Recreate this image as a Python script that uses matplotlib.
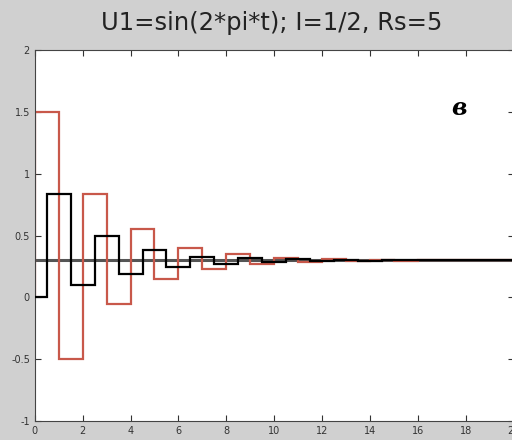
import numpy as np
import matplotlib
matplotlib.use('Agg')
import matplotlib.pyplot as plt

# значения ступенек (отсчёты)
t_red = np.arange(0, 21)
u_red = [1.5, -0.5, 0.833, -0.05, 0.55, 0.15, 0.4, 0.23, 0.35, 0.27,
         0.32, 0.29, 0.31, 0.295, 0.303, 0.298, 0.301, 0.3, 0.3, 0.3]
t_blk = [0, 0.5, 1.5, 2.5, 3.5, 4.5, 5.5, 6.5, 7.5, 8.5, 9.5, 10.5,
         11.5, 12.5, 13.5, 14.5, 15.5, 16.5, 17.5, 18.5, 19.5, 20]
u_blk = [0, 0.833, 0.1, 0.5, 0.19, 0.38, 0.25, 0.33, 0.27, 0.32, 0.29,
         0.31, 0.295, 0.303, 0.298, 0.301, 0.3, 0.3, 0.3, 0.3, 0.3]
u_level = 0.3

xticks = np.arange(0, 21, 2)
yticks = [-1, -0.5, 0, 0.5, 1, 1.5, 2]
ylabels = ['-1', '-0.5', '0', '0.5', '1', '1.5', '2']

fig = plt.figure(figsize=(5.12, 4.4), dpi=100, facecolor='#d0d0d0')
ax = fig.add_axes([0.068, 0.043, 0.935, 0.843])

ax.axhline(u_level, color='#555555', lw=2.2, zorder=1)
ax.stairs(u_red, t_red, color='#c8584a', lw=1.6, zorder=2)
ax.stairs(u_blk, t_blk, color='black', lw=1.6, zorder=3)

ax.set_xlim(0, 20)
ax.set_ylim(-1, 2)
ax.set_xticks(xticks)
ax.set_yticks(yticks)
ax.set_yticklabels(ylabels)
ax.tick_params(direction='in', top=True, right=True, labelsize=7,
               colors='#333333', length=4)
for s in ax.spines.values():
    s.set_color('#444444')

fig.text(0.53, 0.948, 'U1=sin(2*pi*t); I=1/2, Rs=5', ha='center', va='center',
         fontsize=17.5, color='#222222')
ax.text(0.885, 0.845, 'в', transform=ax.transAxes, ha='center', va='center',
        fontsize=17, fontweight='bold', fontstyle='italic', family='DejaVu Serif')

fig.savefig('out.png', dpi=100, facecolor=fig.get_facecolor())
